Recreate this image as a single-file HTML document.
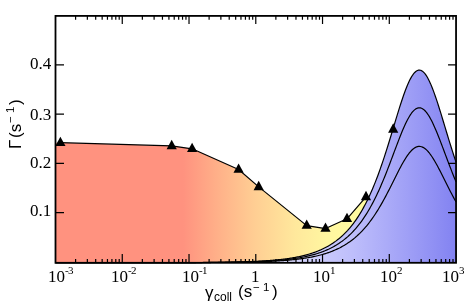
<!DOCTYPE html><html><head><meta charset="utf-8"><style>
html,body{margin:0;padding:0;background:#fff}
#c{position:relative;-webkit-font-smoothing:antialiased;width:467px;height:307px;overflow:hidden;background:#fff}
.t{position:absolute;will-change:transform;font-family:"Liberation Serif",serif;font-size:17px;line-height:17px;color:#000;white-space:nowrap}
.s{position:absolute;will-change:transform;font-family:"Liberation Sans",sans-serif;font-size:17px;line-height:17px;color:#000;white-space:nowrap}
.e{position:absolute;font-size:11px;line-height:11px;letter-spacing:-0.6px}
</style></head><body><div id="c">
<svg width="467" height="307" viewBox="0 0 467 307" style="position:absolute;left:0;top:0">
<defs>
<linearGradient id="gr" gradientUnits="userSpaceOnUse" x1="55" y1="0" x2="375" y2="0">
<stop offset="0" stop-color="#ff927f"/>
<stop offset="0.40" stop-color="#ff927f"/>
<stop offset="0.50" stop-color="#ffae88"/>
<stop offset="0.62" stop-color="#ffcd93"/>
<stop offset="0.75" stop-color="#ffe89c"/>
<stop offset="0.85" stop-color="#fff6a0"/>
<stop offset="1" stop-color="#fffda0"/>
</linearGradient>
<linearGradient id="gb" gradientUnits="userSpaceOnUse" x1="255" y1="0" x2="456" y2="0">
<stop offset="0" stop-color="rgb(232,232,255)"/>
<stop offset="0.363" stop-color="rgb(200,200,251)"/>
<stop offset="0.4876" stop-color="rgb(190,190,251)"/>
<stop offset="0.657" stop-color="rgb(171,171,248)"/>
<stop offset="0.821" stop-color="rgb(152,152,245)"/>
<stop offset="0.970" stop-color="rgb(134,134,242)"/>
<stop offset="1" stop-color="rgb(130,130,241)"/>
</linearGradient>
</defs>
<polygon points="55.50,263.00 55.50,142.70 60.40,142.70 171.70,145.90 192.10,148.80 238.60,169.55 258.70,186.90 306.70,225.60 325.50,228.55 347.00,218.80 366.00,196.90 366.00,263.00" fill="url(#gr)"/>
<polygon points="55.50,263.00 55.50,262.70 56.50,262.70 57.50,262.70 58.50,262.70 59.50,262.70 60.50,262.70 61.50,262.70 62.50,262.70 63.50,262.70 64.50,262.70 65.50,262.70 66.50,262.70 67.50,262.70 68.50,262.70 69.50,262.70 70.50,262.70 71.50,262.70 72.50,262.70 73.50,262.70 74.50,262.70 75.50,262.70 76.50,262.70 77.50,262.70 78.50,262.70 79.50,262.70 80.50,262.70 81.50,262.70 82.50,262.70 83.50,262.70 84.50,262.70 85.50,262.70 86.50,262.70 87.50,262.70 88.50,262.70 89.50,262.70 90.50,262.70 91.50,262.70 92.50,262.70 93.50,262.69 94.50,262.69 95.50,262.69 96.50,262.69 97.50,262.69 98.50,262.69 99.50,262.69 100.50,262.69 101.50,262.69 102.50,262.69 103.50,262.69 104.50,262.69 105.50,262.69 106.50,262.69 107.50,262.69 108.50,262.69 109.50,262.69 110.50,262.69 111.50,262.69 112.50,262.69 113.50,262.69 114.50,262.69 115.50,262.69 116.50,262.69 117.50,262.69 118.50,262.69 119.50,262.69 120.50,262.69 121.50,262.69 122.50,262.69 123.50,262.69 124.50,262.69 125.50,262.68 126.50,262.68 127.50,262.68 128.50,262.68 129.50,262.68 130.50,262.68 131.50,262.68 132.50,262.68 133.50,262.68 134.50,262.68 135.50,262.68 136.50,262.68 137.50,262.68 138.50,262.68 139.50,262.68 140.50,262.67 141.50,262.67 142.50,262.67 143.50,262.67 144.50,262.67 145.50,262.67 146.50,262.67 147.50,262.67 148.50,262.67 149.50,262.66 150.50,262.66 151.50,262.66 152.50,262.66 153.50,262.66 154.50,262.66 155.50,262.66 156.50,262.66 157.50,262.65 158.50,262.65 159.50,262.65 160.50,262.65 161.50,262.65 162.50,262.65 163.50,262.64 164.50,262.64 165.50,262.64 166.50,262.64 167.50,262.63 168.50,262.63 169.50,262.63 170.50,262.63 171.50,262.63 172.50,262.62 173.50,262.62 174.50,262.62 175.50,262.61 176.50,262.61 177.50,262.61 178.50,262.60 179.50,262.60 180.50,262.60 181.50,262.59 182.50,262.59 183.50,262.59 184.50,262.58 185.50,262.58 186.50,262.57 187.50,262.57 188.50,262.57 189.50,262.56 190.50,262.56 191.50,262.55 192.50,262.55 193.50,262.54 194.50,262.53 195.50,262.53 196.50,262.52 197.50,262.52 198.50,262.51 199.50,262.50 200.50,262.50 201.50,262.49 202.50,262.48 203.50,262.47 204.50,262.47 205.50,262.46 206.50,262.45 207.50,262.44 208.50,262.43 209.50,262.42 210.50,262.41 211.50,262.40 212.50,262.39 213.50,262.38 214.50,262.37 215.50,262.36 216.50,262.35 217.50,262.33 218.50,262.32 219.50,262.31 220.50,262.29 221.50,262.28 222.50,262.27 223.50,262.25 224.50,262.23 225.50,262.22 226.50,262.20 227.50,262.18 228.50,262.17 229.50,262.15 230.50,262.13 231.50,262.11 232.50,262.09 233.50,262.07 234.50,262.04 235.50,262.02 236.50,262.00 237.50,261.97 238.50,261.95 239.50,261.92 240.50,261.89 241.50,261.86 242.50,261.83 243.50,261.80 244.50,261.77 245.50,261.74 246.50,261.71 247.50,261.67 248.50,261.64 249.50,261.60 250.50,261.56 251.50,261.52 252.50,261.48 253.50,261.43 254.50,261.39 255.50,261.34 256.50,261.30 257.50,261.25 258.50,261.20 259.50,261.14 260.50,261.09 261.50,261.03 262.50,260.97 263.50,260.91 264.50,260.85 265.50,260.79 266.50,260.72 267.50,260.65 268.50,260.58 269.50,260.50 270.50,260.43 271.50,260.35 272.50,260.26 273.50,260.18 274.50,260.09 275.50,260.00 276.50,259.90 277.50,259.81 278.50,259.70 279.50,259.60 280.50,259.49 281.50,259.38 282.50,259.26 283.50,259.14 284.50,259.02 285.50,258.89 286.50,258.75 287.50,258.61 288.50,258.47 289.50,258.32 290.50,258.17 291.50,258.01 292.50,257.84 293.50,257.67 294.50,257.50 295.50,257.32 296.50,257.13 297.50,256.93 298.50,256.73 299.50,256.52 300.50,256.30 301.50,256.08 302.50,255.85 303.50,255.61 304.50,255.36 305.50,255.10 306.50,254.83 307.50,254.56 308.50,254.27 309.50,253.98 310.50,253.67 311.50,253.35 312.50,253.03 313.50,252.69 314.50,252.34 315.50,251.97 316.50,251.60 317.50,251.21 318.50,250.81 319.50,250.39 320.50,249.96 321.50,249.51 322.50,249.05 323.50,248.57 324.50,248.08 325.50,247.57 326.50,247.04 327.50,246.49 328.50,245.92 329.50,245.34 330.50,244.73 331.50,244.10 332.50,243.45 333.50,242.78 334.50,242.08 335.50,241.37 336.50,240.62 337.50,239.85 338.50,239.06 339.50,238.23 340.50,237.38 341.50,236.50 342.50,235.59 343.50,234.65 344.50,233.68 345.50,232.67 346.50,231.63 347.50,230.56 348.50,229.44 349.50,228.30 350.50,227.11 351.50,225.88 352.50,224.62 353.50,223.31 354.50,221.95 355.50,220.56 356.50,219.12 357.50,217.63 358.50,216.09 359.50,214.51 360.50,212.88 361.50,211.19 362.50,209.45 363.50,207.66 364.50,205.81 365.50,203.91 366.50,201.95 367.50,199.93 368.50,197.86 369.50,195.72 370.50,193.52 371.50,191.27 372.50,188.95 373.50,186.57 374.50,184.12 375.50,181.62 376.50,179.05 377.50,176.42 378.50,173.73 379.50,170.98 380.50,168.17 381.50,165.30 382.50,162.37 383.50,159.39 384.50,156.36 385.50,153.27 386.50,150.15 387.50,146.97 388.50,143.77 389.50,140.52 390.50,137.25 391.50,133.96 392.50,130.65 393.50,127.33 394.50,124.01 395.50,120.69 396.50,117.39 397.50,114.12 398.50,110.88 399.50,107.68 400.50,104.53 401.50,101.46 402.50,98.45 403.50,95.54 404.50,92.73 405.50,90.03 406.50,87.46 407.50,85.02 408.50,82.73 409.50,80.60 410.50,78.64 411.50,76.87 412.50,75.28 413.50,73.89 414.50,72.71 415.50,71.74 416.50,70.99 417.50,70.47 418.50,70.17 419.50,70.10 420.50,70.26 421.50,70.65 422.50,71.27 423.50,72.10 424.50,73.16 425.50,74.42 426.50,75.89 427.50,77.55 428.50,79.41 429.50,81.43 430.50,83.63 431.50,85.98 432.50,88.47 433.50,91.10 434.50,93.84 435.50,96.70 436.50,99.64 437.50,102.68 438.50,105.78 439.50,108.95 440.50,112.17 441.50,115.43 442.50,118.71 443.50,122.02 444.50,125.34 445.50,128.66 446.50,131.97 447.50,135.28 448.50,138.56 449.50,141.82 450.50,145.05 451.50,148.25 452.50,151.40 453.50,154.51 454.50,157.58 455.50,160.59 456.05,162.22 456.05,263.00" fill="url(#gb)"/>
<polyline points="55.50,262.70 56.50,262.70 57.50,262.70 58.50,262.70 59.50,262.70 60.50,262.70 61.50,262.70 62.50,262.70 63.50,262.70 64.50,262.70 65.50,262.70 66.50,262.70 67.50,262.70 68.50,262.70 69.50,262.70 70.50,262.70 71.50,262.70 72.50,262.70 73.50,262.70 74.50,262.70 75.50,262.70 76.50,262.70 77.50,262.70 78.50,262.70 79.50,262.70 80.50,262.70 81.50,262.70 82.50,262.70 83.50,262.70 84.50,262.70 85.50,262.70 86.50,262.70 87.50,262.70 88.50,262.70 89.50,262.70 90.50,262.70 91.50,262.70 92.50,262.70 93.50,262.69 94.50,262.69 95.50,262.69 96.50,262.69 97.50,262.69 98.50,262.69 99.50,262.69 100.50,262.69 101.50,262.69 102.50,262.69 103.50,262.69 104.50,262.69 105.50,262.69 106.50,262.69 107.50,262.69 108.50,262.69 109.50,262.69 110.50,262.69 111.50,262.69 112.50,262.69 113.50,262.69 114.50,262.69 115.50,262.69 116.50,262.69 117.50,262.69 118.50,262.69 119.50,262.69 120.50,262.69 121.50,262.69 122.50,262.69 123.50,262.69 124.50,262.69 125.50,262.68 126.50,262.68 127.50,262.68 128.50,262.68 129.50,262.68 130.50,262.68 131.50,262.68 132.50,262.68 133.50,262.68 134.50,262.68 135.50,262.68 136.50,262.68 137.50,262.68 138.50,262.68 139.50,262.68 140.50,262.67 141.50,262.67 142.50,262.67 143.50,262.67 144.50,262.67 145.50,262.67 146.50,262.67 147.50,262.67 148.50,262.67 149.50,262.66 150.50,262.66 151.50,262.66 152.50,262.66 153.50,262.66 154.50,262.66 155.50,262.66 156.50,262.66 157.50,262.65 158.50,262.65 159.50,262.65 160.50,262.65 161.50,262.65 162.50,262.65 163.50,262.64 164.50,262.64 165.50,262.64 166.50,262.64 167.50,262.63 168.50,262.63 169.50,262.63 170.50,262.63 171.50,262.63 172.50,262.62 173.50,262.62 174.50,262.62 175.50,262.61 176.50,262.61 177.50,262.61 178.50,262.60 179.50,262.60 180.50,262.60 181.50,262.59 182.50,262.59 183.50,262.59 184.50,262.58 185.50,262.58 186.50,262.57 187.50,262.57 188.50,262.57 189.50,262.56 190.50,262.56 191.50,262.55 192.50,262.55 193.50,262.54 194.50,262.53 195.50,262.53 196.50,262.52 197.50,262.52 198.50,262.51 199.50,262.50 200.50,262.50 201.50,262.49 202.50,262.48 203.50,262.47 204.50,262.47 205.50,262.46 206.50,262.45 207.50,262.44 208.50,262.43 209.50,262.42 210.50,262.41 211.50,262.40 212.50,262.39 213.50,262.38 214.50,262.37 215.50,262.36 216.50,262.35 217.50,262.33 218.50,262.32 219.50,262.31 220.50,262.29 221.50,262.28 222.50,262.27 223.50,262.25 224.50,262.23 225.50,262.22 226.50,262.20 227.50,262.18 228.50,262.17 229.50,262.15 230.50,262.13 231.50,262.11 232.50,262.09 233.50,262.07 234.50,262.04 235.50,262.02 236.50,262.00 237.50,261.97 238.50,261.95 239.50,261.92 240.50,261.89 241.50,261.86 242.50,261.83 243.50,261.80 244.50,261.77 245.50,261.74 246.50,261.71 247.50,261.67 248.50,261.64 249.50,261.60 250.50,261.56 251.50,261.52 252.50,261.48 253.50,261.43 254.50,261.39 255.50,261.34 256.50,261.30 257.50,261.25 258.50,261.20 259.50,261.14 260.50,261.09 261.50,261.03 262.50,260.97 263.50,260.91 264.50,260.85 265.50,260.79 266.50,260.72 267.50,260.65 268.50,260.58 269.50,260.50 270.50,260.43 271.50,260.35 272.50,260.26 273.50,260.18 274.50,260.09 275.50,260.00 276.50,259.90 277.50,259.81 278.50,259.70 279.50,259.60 280.50,259.49 281.50,259.38 282.50,259.26 283.50,259.14 284.50,259.02 285.50,258.89 286.50,258.75 287.50,258.61 288.50,258.47 289.50,258.32 290.50,258.17 291.50,258.01 292.50,257.84 293.50,257.67 294.50,257.50 295.50,257.32 296.50,257.13 297.50,256.93 298.50,256.73 299.50,256.52 300.50,256.30 301.50,256.08 302.50,255.85 303.50,255.61 304.50,255.36 305.50,255.10 306.50,254.83 307.50,254.56 308.50,254.27 309.50,253.98 310.50,253.67 311.50,253.35 312.50,253.03 313.50,252.69 314.50,252.34 315.50,251.97 316.50,251.60 317.50,251.21 318.50,250.81 319.50,250.39 320.50,249.96 321.50,249.51 322.50,249.05 323.50,248.57 324.50,248.08 325.50,247.57 326.50,247.04 327.50,246.49 328.50,245.92 329.50,245.34 330.50,244.73 331.50,244.10 332.50,243.45 333.50,242.78 334.50,242.08 335.50,241.37 336.50,240.62 337.50,239.85 338.50,239.06 339.50,238.23 340.50,237.38 341.50,236.50 342.50,235.59 343.50,234.65 344.50,233.68 345.50,232.67 346.50,231.63 347.50,230.56 348.50,229.44 349.50,228.30 350.50,227.11 351.50,225.88 352.50,224.62 353.50,223.31 354.50,221.95 355.50,220.56 356.50,219.12 357.50,217.63 358.50,216.09 359.50,214.51 360.50,212.88 361.50,211.19 362.50,209.45 363.50,207.66 364.50,205.81 365.50,203.91 366.50,201.95 367.50,199.93 368.50,197.86 369.50,195.72 370.50,193.52 371.50,191.27 372.50,188.95 373.50,186.57 374.50,184.12 375.50,181.62 376.50,179.05 377.50,176.42 378.50,173.73 379.50,170.98 380.50,168.17 381.50,165.30 382.50,162.37 383.50,159.39 384.50,156.36 385.50,153.27 386.50,150.15 387.50,146.97 388.50,143.77 389.50,140.52 390.50,137.25 391.50,133.96 392.50,130.65 393.50,127.33 394.50,124.01 395.50,120.69 396.50,117.39 397.50,114.12 398.50,110.88 399.50,107.68 400.50,104.53 401.50,101.46 402.50,98.45 403.50,95.54 404.50,92.73 405.50,90.03 406.50,87.46 407.50,85.02 408.50,82.73 409.50,80.60 410.50,78.64 411.50,76.87 412.50,75.28 413.50,73.89 414.50,72.71 415.50,71.74 416.50,70.99 417.50,70.47 418.50,70.17 419.50,70.10 420.50,70.26 421.50,70.65 422.50,71.27 423.50,72.10 424.50,73.16 425.50,74.42 426.50,75.89 427.50,77.55 428.50,79.41 429.50,81.43 430.50,83.63 431.50,85.98 432.50,88.47 433.50,91.10 434.50,93.84 435.50,96.70 436.50,99.64 437.50,102.68 438.50,105.78 439.50,108.95 440.50,112.17 441.50,115.43 442.50,118.71 443.50,122.02 444.50,125.34 445.50,128.66 446.50,131.97 447.50,135.28 448.50,138.56 449.50,141.82 450.50,145.05 451.50,148.25 452.50,151.40 453.50,154.51 454.50,157.58 455.50,160.59 456.05,162.22" fill="none" stroke="#000" stroke-width="1.2" stroke-linejoin="round"/>
<polyline points="55.50,262.70 56.50,262.70 57.50,262.70 58.50,262.70 59.50,262.70 60.50,262.70 61.50,262.70 62.50,262.70 63.50,262.70 64.50,262.70 65.50,262.70 66.50,262.70 67.50,262.70 68.50,262.70 69.50,262.70 70.50,262.70 71.50,262.70 72.50,262.70 73.50,262.70 74.50,262.70 75.50,262.70 76.50,262.70 77.50,262.70 78.50,262.70 79.50,262.70 80.50,262.70 81.50,262.70 82.50,262.70 83.50,262.70 84.50,262.70 85.50,262.70 86.50,262.70 87.50,262.70 88.50,262.70 89.50,262.70 90.50,262.70 91.50,262.70 92.50,262.70 93.50,262.70 94.50,262.70 95.50,262.70 96.50,262.70 97.50,262.70 98.50,262.70 99.50,262.69 100.50,262.69 101.50,262.69 102.50,262.69 103.50,262.69 104.50,262.69 105.50,262.69 106.50,262.69 107.50,262.69 108.50,262.69 109.50,262.69 110.50,262.69 111.50,262.69 112.50,262.69 113.50,262.69 114.50,262.69 115.50,262.69 116.50,262.69 117.50,262.69 118.50,262.69 119.50,262.69 120.50,262.69 121.50,262.69 122.50,262.69 123.50,262.69 124.50,262.69 125.50,262.69 126.50,262.69 127.50,262.69 128.50,262.69 129.50,262.69 130.50,262.69 131.50,262.68 132.50,262.68 133.50,262.68 134.50,262.68 135.50,262.68 136.50,262.68 137.50,262.68 138.50,262.68 139.50,262.68 140.50,262.68 141.50,262.68 142.50,262.68 143.50,262.68 144.50,262.68 145.50,262.68 146.50,262.67 147.50,262.67 148.50,262.67 149.50,262.67 150.50,262.67 151.50,262.67 152.50,262.67 153.50,262.67 154.50,262.67 155.50,262.67 156.50,262.66 157.50,262.66 158.50,262.66 159.50,262.66 160.50,262.66 161.50,262.66 162.50,262.66 163.50,262.65 164.50,262.65 165.50,262.65 166.50,262.65 167.50,262.65 168.50,262.65 169.50,262.64 170.50,262.64 171.50,262.64 172.50,262.64 173.50,262.64 174.50,262.63 175.50,262.63 176.50,262.63 177.50,262.63 178.50,262.62 179.50,262.62 180.50,262.62 181.50,262.62 182.50,262.61 183.50,262.61 184.50,262.61 185.50,262.60 186.50,262.60 187.50,262.60 188.50,262.59 189.50,262.59 190.50,262.58 191.50,262.58 192.50,262.58 193.50,262.57 194.50,262.57 195.50,262.56 196.50,262.56 197.50,262.55 198.50,262.55 199.50,262.54 200.50,262.54 201.50,262.53 202.50,262.52 203.50,262.52 204.50,262.51 205.50,262.51 206.50,262.50 207.50,262.49 208.50,262.48 209.50,262.48 210.50,262.47 211.50,262.46 212.50,262.45 213.50,262.44 214.50,262.43 215.50,262.43 216.50,262.42 217.50,262.41 218.50,262.40 219.50,262.39 220.50,262.37 221.50,262.36 222.50,262.35 223.50,262.34 224.50,262.33 225.50,262.31 226.50,262.30 227.50,262.29 228.50,262.27 229.50,262.26 230.50,262.24 231.50,262.22 232.50,262.21 233.50,262.19 234.50,262.17 235.50,262.15 236.50,262.13 237.50,262.11 238.50,262.09 239.50,262.07 240.50,262.05 241.50,262.03 242.50,262.00 243.50,261.98 244.50,261.95 245.50,261.93 246.50,261.90 247.50,261.87 248.50,261.84 249.50,261.81 250.50,261.78 251.50,261.75 252.50,261.72 253.50,261.68 254.50,261.65 255.50,261.61 256.50,261.57 257.50,261.53 258.50,261.49 259.50,261.45 260.50,261.40 261.50,261.36 262.50,261.31 263.50,261.26 264.50,261.21 265.50,261.16 266.50,261.11 267.50,261.05 268.50,260.99 269.50,260.93 270.50,260.87 271.50,260.81 272.50,260.74 273.50,260.67 274.50,260.60 275.50,260.53 276.50,260.45 277.50,260.37 278.50,260.29 279.50,260.21 280.50,260.12 281.50,260.03 282.50,259.93 283.50,259.84 284.50,259.74 285.50,259.63 286.50,259.52 287.50,259.41 288.50,259.30 289.50,259.18 290.50,259.06 291.50,258.93 292.50,258.79 293.50,258.66 294.50,258.52 295.50,258.37 296.50,258.22 297.50,258.06 298.50,257.90 299.50,257.73 300.50,257.55 301.50,257.37 302.50,257.19 303.50,256.99 304.50,256.79 305.50,256.59 306.50,256.37 307.50,256.15 308.50,255.92 309.50,255.68 310.50,255.44 311.50,255.18 312.50,254.92 313.50,254.65 314.50,254.36 315.50,254.07 316.50,253.77 317.50,253.46 318.50,253.13 319.50,252.80 320.50,252.45 321.50,252.09 322.50,251.72 323.50,251.34 324.50,250.94 325.50,250.53 326.50,250.10 327.50,249.66 328.50,249.21 329.50,248.73 330.50,248.25 331.50,247.74 332.50,247.22 333.50,246.68 334.50,246.12 335.50,245.54 336.50,244.94 337.50,244.32 338.50,243.68 339.50,243.02 340.50,242.34 341.50,241.63 342.50,240.90 343.50,240.14 344.50,239.36 345.50,238.55 346.50,237.71 347.50,236.85 348.50,235.95 349.50,235.03 350.50,234.08 351.50,233.09 352.50,232.07 353.50,231.02 354.50,229.93 355.50,228.81 356.50,227.65 357.50,226.45 358.50,225.22 359.50,223.94 360.50,222.63 361.50,221.27 362.50,219.87 363.50,218.43 364.50,216.95 365.50,215.42 366.50,213.84 367.50,212.22 368.50,210.55 369.50,208.83 370.50,207.06 371.50,205.25 372.50,203.38 373.50,201.47 374.50,199.50 375.50,197.49 376.50,195.42 377.50,193.31 378.50,191.14 379.50,188.93 380.50,186.67 381.50,184.36 382.50,182.01 383.50,179.61 384.50,177.17 385.50,174.69 386.50,172.18 387.50,169.63 388.50,167.05 389.50,164.44 390.50,161.81 391.50,159.16 392.50,156.50 393.50,153.83 394.50,151.16 395.50,148.49 396.50,145.84 397.50,143.20 398.50,140.59 399.50,138.02 400.50,135.49 401.50,133.02 402.50,130.60 403.50,128.26 404.50,126.00 405.50,123.83 406.50,121.76 407.50,119.80 408.50,117.96 409.50,116.25 410.50,114.67 411.50,113.24 412.50,111.96 413.50,110.85 414.50,109.90 415.50,109.12 416.50,108.52 417.50,108.10 418.50,107.86 419.50,107.80 420.50,107.93 421.50,108.24 422.50,108.74 423.50,109.41 424.50,110.26 425.50,111.28 426.50,112.46 427.50,113.80 428.50,115.28 429.50,116.92 430.50,118.68 431.50,120.57 432.50,122.58 433.50,124.69 434.50,126.89 435.50,129.19 436.50,131.56 437.50,134.00 438.50,136.50 439.50,139.05 440.50,141.63 441.50,144.25 442.50,146.90 443.50,149.56 444.50,152.22 445.50,154.90 446.50,157.56 447.50,160.22 448.50,162.86 449.50,165.48 450.50,168.08 451.50,170.65 452.50,173.19 453.50,175.69 454.50,178.15 455.50,180.58 456.05,181.89" fill="none" stroke="#000" stroke-width="1.2" stroke-linejoin="round"/>
<polyline points="55.50,262.70 56.50,262.70 57.50,262.70 58.50,262.70 59.50,262.70 60.50,262.70 61.50,262.70 62.50,262.70 63.50,262.70 64.50,262.70 65.50,262.70 66.50,262.70 67.50,262.70 68.50,262.70 69.50,262.70 70.50,262.70 71.50,262.70 72.50,262.70 73.50,262.70 74.50,262.70 75.50,262.70 76.50,262.70 77.50,262.70 78.50,262.70 79.50,262.70 80.50,262.70 81.50,262.70 82.50,262.70 83.50,262.70 84.50,262.70 85.50,262.70 86.50,262.70 87.50,262.70 88.50,262.70 89.50,262.70 90.50,262.70 91.50,262.70 92.50,262.70 93.50,262.70 94.50,262.70 95.50,262.70 96.50,262.70 97.50,262.70 98.50,262.70 99.50,262.70 100.50,262.70 101.50,262.70 102.50,262.70 103.50,262.70 104.50,262.70 105.50,262.70 106.50,262.70 107.50,262.70 108.50,262.69 109.50,262.69 110.50,262.69 111.50,262.69 112.50,262.69 113.50,262.69 114.50,262.69 115.50,262.69 116.50,262.69 117.50,262.69 118.50,262.69 119.50,262.69 120.50,262.69 121.50,262.69 122.50,262.69 123.50,262.69 124.50,262.69 125.50,262.69 126.50,262.69 127.50,262.69 128.50,262.69 129.50,262.69 130.50,262.69 131.50,262.69 132.50,262.69 133.50,262.69 134.50,262.69 135.50,262.69 136.50,262.69 137.50,262.69 138.50,262.69 139.50,262.69 140.50,262.68 141.50,262.68 142.50,262.68 143.50,262.68 144.50,262.68 145.50,262.68 146.50,262.68 147.50,262.68 148.50,262.68 149.50,262.68 150.50,262.68 151.50,262.68 152.50,262.68 153.50,262.68 154.50,262.67 155.50,262.67 156.50,262.67 157.50,262.67 158.50,262.67 159.50,262.67 160.50,262.67 161.50,262.67 162.50,262.67 163.50,262.67 164.50,262.66 165.50,262.66 166.50,262.66 167.50,262.66 168.50,262.66 169.50,262.66 170.50,262.66 171.50,262.65 172.50,262.65 173.50,262.65 174.50,262.65 175.50,262.65 176.50,262.65 177.50,262.64 178.50,262.64 179.50,262.64 180.50,262.64 181.50,262.64 182.50,262.63 183.50,262.63 184.50,262.63 185.50,262.63 186.50,262.62 187.50,262.62 188.50,262.62 189.50,262.62 190.50,262.61 191.50,262.61 192.50,262.61 193.50,262.60 194.50,262.60 195.50,262.60 196.50,262.59 197.50,262.59 198.50,262.59 199.50,262.58 200.50,262.58 201.50,262.57 202.50,262.57 203.50,262.56 204.50,262.56 205.50,262.55 206.50,262.55 207.50,262.54 208.50,262.54 209.50,262.53 210.50,262.53 211.50,262.52 212.50,262.51 213.50,262.51 214.50,262.50 215.50,262.49 216.50,262.49 217.50,262.48 218.50,262.47 219.50,262.46 220.50,262.46 221.50,262.45 222.50,262.44 223.50,262.43 224.50,262.42 225.50,262.41 226.50,262.40 227.50,262.39 228.50,262.38 229.50,262.37 230.50,262.35 231.50,262.34 232.50,262.33 233.50,262.32 234.50,262.30 235.50,262.29 236.50,262.28 237.50,262.26 238.50,262.24 239.50,262.23 240.50,262.21 241.50,262.20 242.50,262.18 243.50,262.16 244.50,262.14 245.50,262.12 246.50,262.10 247.50,262.08 248.50,262.06 249.50,262.03 250.50,262.01 251.50,261.99 252.50,261.96 253.50,261.94 254.50,261.91 255.50,261.88 256.50,261.85 257.50,261.82 258.50,261.79 259.50,261.76 260.50,261.73 261.50,261.69 262.50,261.66 263.50,261.62 264.50,261.58 265.50,261.54 266.50,261.50 267.50,261.46 268.50,261.42 269.50,261.37 270.50,261.33 271.50,261.28 272.50,261.23 273.50,261.18 274.50,261.12 275.50,261.07 276.50,261.01 277.50,260.95 278.50,260.89 279.50,260.83 280.50,260.76 281.50,260.69 282.50,260.62 283.50,260.55 284.50,260.47 285.50,260.40 286.50,260.32 287.50,260.23 288.50,260.15 289.50,260.06 290.50,259.96 291.50,259.87 292.50,259.77 293.50,259.67 294.50,259.56 295.50,259.45 296.50,259.33 297.50,259.22 298.50,259.09 299.50,258.97 300.50,258.84 301.50,258.70 302.50,258.56 303.50,258.42 304.50,258.27 305.50,258.11 306.50,257.95 307.50,257.78 308.50,257.61 309.50,257.43 310.50,257.25 311.50,257.06 312.50,256.86 313.50,256.65 314.50,256.44 315.50,256.22 316.50,256.00 317.50,255.76 318.50,255.52 319.50,255.27 320.50,255.01 321.50,254.74 322.50,254.46 323.50,254.17 324.50,253.87 325.50,253.56 326.50,253.24 327.50,252.91 328.50,252.57 329.50,252.21 330.50,251.85 331.50,251.47 332.50,251.08 333.50,250.67 334.50,250.25 335.50,249.82 336.50,249.37 337.50,248.90 338.50,248.42 339.50,247.93 340.50,247.41 341.50,246.88 342.50,246.33 343.50,245.76 344.50,245.17 345.50,244.57 346.50,243.94 347.50,243.29 348.50,242.62 349.50,241.93 350.50,241.21 351.50,240.47 352.50,239.70 353.50,238.91 354.50,238.10 355.50,237.25 356.50,236.38 357.50,235.48 358.50,234.56 359.50,233.60 360.50,232.61 361.50,231.60 362.50,230.55 363.50,229.46 364.50,228.35 365.50,227.20 366.50,226.02 367.50,224.80 368.50,223.54 369.50,222.25 370.50,220.93 371.50,219.57 372.50,218.17 373.50,216.73 374.50,215.25 375.50,213.74 376.50,212.19 377.50,210.60 378.50,208.98 379.50,207.31 380.50,205.62 381.50,203.88 382.50,202.12 383.50,200.32 384.50,198.49 385.50,196.62 386.50,194.73 387.50,192.82 388.50,190.88 389.50,188.92 390.50,186.95 391.50,184.96 392.50,182.96 393.50,180.96 394.50,178.95 395.50,176.95 396.50,174.96 397.50,172.98 398.50,171.02 399.50,169.09 400.50,167.19 401.50,165.33 402.50,163.52 403.50,161.76 404.50,160.07 405.50,158.44 406.50,156.88 407.50,155.41 408.50,154.03 409.50,152.74 410.50,151.56 411.50,150.49 412.50,149.53 413.50,148.69 414.50,147.98 415.50,147.39 416.50,146.94 417.50,146.62 418.50,146.44 419.50,146.40 420.50,146.50 421.50,146.73 422.50,147.10 423.50,147.61 424.50,148.25 425.50,149.01 426.50,149.90 427.50,150.90 428.50,152.02 429.50,153.24 430.50,154.57 431.50,155.99 432.50,157.49 433.50,159.08 434.50,160.74 435.50,162.46 436.50,164.24 437.50,166.07 438.50,167.95 439.50,169.86 440.50,171.80 441.50,173.77 442.50,175.75 443.50,177.75 444.50,179.75 445.50,181.76 446.50,183.76 447.50,185.76 448.50,187.74 449.50,189.71 450.50,191.66 451.50,193.59 452.50,195.49 453.50,197.37 454.50,199.22 455.50,201.04 456.05,202.03" fill="none" stroke="#000" stroke-width="1.2" stroke-linejoin="round"/>
<polyline points="60.40,142.70 171.70,145.90 192.10,148.80 238.60,169.55 258.70,186.90 306.70,225.60 325.50,228.55 347.00,218.80 366.00,196.90" fill="none" stroke="#000" stroke-width="1.2" stroke-linejoin="round"/>
<polygon points="60.40,136.65 55.30,145.95 65.50,145.95" fill="#000"/>
<polygon points="171.70,139.85 166.60,149.15 176.80,149.15" fill="#000"/>
<polygon points="192.10,142.75 187.00,152.05 197.20,152.05" fill="#000"/>
<polygon points="238.60,163.50 233.50,172.80 243.70,172.80" fill="#000"/>
<polygon points="258.70,180.85 253.60,190.15 263.80,190.15" fill="#000"/>
<polygon points="306.70,219.55 301.60,228.85 311.80,228.85" fill="#000"/>
<polygon points="325.50,222.50 320.40,231.80 330.60,231.80" fill="#000"/>
<polygon points="347.00,212.75 341.90,222.05 352.10,222.05" fill="#000"/>
<polygon points="366.00,190.85 360.90,200.15 371.10,200.15" fill="#000"/>
<polygon points="393.20,123.35 388.10,132.65 398.30,132.65" fill="#000"/>
<rect x="55.50" y="15.90" width="400.55" height="246.90" fill="none" stroke="#000" stroke-width="1.8"/>
<path d="M75.60 262.80V259.10M75.60 15.90V19.70M87.35 262.80V259.10M87.35 15.90V19.70M95.69 262.80V259.10M95.69 15.90V19.70M102.16 262.80V259.10M102.16 15.90V19.70M107.45 262.80V259.10M107.45 15.90V19.70M111.92 262.80V259.10M111.92 15.90V19.70M115.79 262.80V259.10M115.79 15.90V19.70M119.20 262.80V259.10M119.20 15.90V19.70M122.26 262.80V254.10M122.26 15.90V23.90M142.35 262.80V259.10M142.35 15.90V19.70M154.11 262.80V259.10M154.11 15.90V19.70M162.45 262.80V259.10M162.45 15.90V19.70M168.92 262.80V259.10M168.92 15.90V19.70M174.21 262.80V259.10M174.21 15.90V19.70M178.68 262.80V259.10M178.68 15.90V19.70M182.55 262.80V259.10M182.55 15.90V19.70M185.96 262.80V259.10M185.96 15.90V19.70M189.02 262.80V254.10M189.02 15.90V23.90M209.11 262.80V259.10M209.11 15.90V19.70M220.87 262.80V259.10M220.87 15.90V19.70M229.21 262.80V259.10M229.21 15.90V19.70M235.68 262.80V259.10M235.68 15.90V19.70M240.96 262.80V259.10M240.96 15.90V19.70M245.43 262.80V259.10M245.43 15.90V19.70M249.31 262.80V259.10M249.31 15.90V19.70M252.72 262.80V259.10M252.72 15.90V19.70M255.78 262.80V254.10M255.78 15.90V23.90M275.87 262.80V259.10M275.87 15.90V19.70M287.63 262.80V259.10M287.63 15.90V19.70M295.97 262.80V259.10M295.97 15.90V19.70M302.44 262.80V259.10M302.44 15.90V19.70M307.72 262.80V259.10M307.72 15.90V19.70M312.19 262.80V259.10M312.19 15.90V19.70M316.06 262.80V259.10M316.06 15.90V19.70M319.48 262.80V259.10M319.48 15.90V19.70M322.53 262.80V254.10M322.53 15.90V23.90M342.63 262.80V259.10M342.63 15.90V19.70M354.39 262.80V259.10M354.39 15.90V19.70M362.73 262.80V259.10M362.73 15.90V19.70M369.20 262.80V259.10M369.20 15.90V19.70M374.48 262.80V259.10M374.48 15.90V19.70M378.95 262.80V259.10M378.95 15.90V19.70M382.82 262.80V259.10M382.82 15.90V19.70M386.24 262.80V259.10M386.24 15.90V19.70M389.29 262.80V254.10M389.29 15.90V23.90M409.39 262.80V259.10M409.39 15.90V19.70M421.14 262.80V259.10M421.14 15.90V19.70M429.48 262.80V259.10M429.48 15.90V19.70M435.95 262.80V259.10M435.95 15.90V19.70M441.24 262.80V259.10M441.24 15.90V19.70M445.71 262.80V259.10M445.71 15.90V19.70M449.58 262.80V259.10M449.58 15.90V19.70M453.00 262.80V259.10M453.00 15.90V19.70M55.50 212.70H64.00M456.05 212.70H448.05M55.50 163.40H64.00M456.05 163.40H448.05M55.50 114.10H64.00M456.05 114.10H448.05M55.50 64.80H64.00M456.05 64.80H448.05" stroke="#000" stroke-width="1.2" fill="none"/>
</svg>
<div class="t" style="left:30.2px;top:54.8px">0.4</div>
<div class="t" style="left:30.2px;top:106.4px">0.3</div>
<div class="t" style="left:30.2px;top:154.0px">0.2</div>
<div class="t" style="left:30.2px;top:202.4px">0.1</div>
<div class="t" style="left:47.9px;top:267.5px">10<span class="e" style="left:17px;top:-3.5px;font-family:'Liberation Serif'">-3</span></div>
<div class="t" style="left:110.7px;top:267.5px">10<span class="e" style="left:17px;top:-3.5px;font-family:'Liberation Serif'">-2</span></div>
<div class="t" style="left:181.5px;top:267.5px">10<span class="e" style="left:17px;top:-3.5px;font-family:'Liberation Serif'">-1</span></div>
<div class="t" style="left:251.1px;top:267.5px">1<span class="e" style="left:17px;top:-3.5px;font-family:'Liberation Serif'"></span></div>
<div class="t" style="left:312.9px;top:267.5px">10<span class="e" style="left:17px;top:-3.5px;font-family:'Liberation Serif'">1</span></div>
<div class="t" style="left:379.6px;top:267.5px">10<span class="e" style="left:17px;top:-3.5px;font-family:'Liberation Serif'">2</span></div>
<div class="t" style="left:442.4px;top:267.5px">10<span class="e" style="left:17px;top:-3.5px;font-family:'Liberation Serif'">3</span></div>
<div class="s" style="left:204.5px;top:284px">γ</div>
<div class="s" style="left:214px;top:290.5px;font-size:12px;line-height:12px">coll</div>
<div class="s" style="left:238px;top:283px">(s</div>
<div class="s" style="left:252.5px;top:280.5px;font-size:11.5px;line-height:12px">−</div>
<div class="s" style="left:262.7px;top:280.5px;font-size:11.5px;line-height:12px">1</div>
<div class="s" style="left:271.5px;top:283px">)</div>
<div style="position:absolute;left:21.8px;top:148.7px;width:0;height:0;transform:rotate(-90deg);transform-origin:0 0">
<div class="s" style="left:0px;top:-14.6px">Γ</div>
<div class="s" style="left:10.5px;top:-14.6px">(s</div>
<div class="s" style="left:26.3px;top:-18.3px;font-size:11.5px;line-height:12px">−</div>
<div class="s" style="left:36px;top:-18.3px;font-size:11.5px;line-height:12px">1</div>
<div class="s" style="left:44px;top:-14.6px">)</div>
</div>
</div></body></html>
